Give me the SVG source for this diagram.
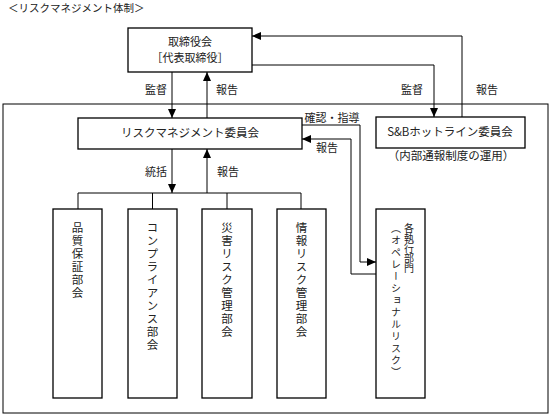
<svg xmlns="http://www.w3.org/2000/svg" width="552" height="416" viewBox="0 0 552 416">
<style>
text{font-family:"Noto Sans CJK JP","Noto Sans",sans-serif;fill:#222;}
.t{font-size:10.5px;}
.n{font-size:11.5px;text-anchor:middle;}
.box{fill:#fff;stroke:#000;stroke-width:1.3;}
.outer{fill:none;stroke:#000;stroke-width:1;}
.ln{fill:none;stroke:#000;stroke-width:1;}
.arr{marker-end:url(#ah);}
.v{font-size:11.5px;writing-mode:vertical-rl;letter-spacing:1.5px;}
.lbl{font-size:11px;text-anchor:middle;}
</style>
<defs>
<marker id="ah" markerUnits="userSpaceOnUse" markerWidth="9" markerHeight="8" refX="9" refY="4" orient="auto">
<path d="M0,0 L9,4 L0,8 z" fill="#000"/>
</marker>
</defs>
<text class="t" x="8" y="12">＜リスクマネジメント体制＞</text>
<rect class="outer" x="3" y="104" width="545" height="309"/>
<g id="connectors">
<line class="ln arr" x1="172" y1="72" x2="172" y2="118"/>
<line class="ln arr" x1="207" y1="118" x2="207" y2="72"/>
<polyline class="ln arr" points="462,117 462,36 252,36"/>
<polyline class="ln arr" points="252,65 434,65 434,117"/>
<polyline class="ln arr" points="302,125 360,125 360,262 376,262"/>
<polyline class="ln arr" points="376,274 351,274 351,139 302,139"/>
<line class="ln arr" x1="172" y1="149" x2="172" y2="193"/>
<line class="ln arr" x1="207" y1="193" x2="207" y2="149"/>
<line class="ln" x1="78" y1="193" x2="301" y2="193"/>
<line class="ln" x1="78" y1="193" x2="78" y2="209"/>
<line class="ln" x1="152.5" y1="193" x2="152.5" y2="209"/>
<line class="ln" x1="227" y1="193" x2="227" y2="209"/>
<line class="ln" x1="301" y1="193" x2="301" y2="209"/>
<text class="lbl" x="156" y="94">監督</text>
<text class="lbl" x="227" y="94">報告</text>
<text class="lbl" x="412" y="94">監督</text>
<text class="lbl" x="487" y="94">報告</text>
<text class="lbl" x="332" y="122">確認・指導</text>
<text class="lbl" x="327" y="152">報告</text>
<text class="lbl" x="156" y="176">統括</text>
<text class="lbl" x="228" y="176">報告</text>
</g>
<g id="board">
<rect class="box" x="128" y="28" width="124" height="44"/>
<text class="n" x="190" y="46" style="font-size:11px">取締役会</text>
<text class="n" x="190" y="62" style="font-size:11px">［代表取締役］</text>
</g>
<g id="rm-committee">
<rect class="box" x="78" y="118" width="224" height="31"/>
<text class="n" x="190" y="137">リスクマネジメント委員会</text>
</g>
<g id="hotline">
<rect class="box" x="376" y="117" width="149" height="31"/>
<text class="n" x="450" y="136">S&amp;Bホットライン委員会</text>
<text class="n" x="451" y="160">（内部通報制度の運用）</text>
</g>
<g id="quality">
<rect class="box" x="53" y="209" width="49" height="189"/>
<text class="v" x="77.5" y="222">品質保証部会</text>
</g>
<g id="compliance">
<rect class="box" x="128" y="209" width="49" height="189"/>
<text class="v" x="152.5" y="222">コンプライアンス部会</text>
</g>
<g id="disaster">
<rect class="box" x="202" y="209" width="50" height="189"/>
<text class="v" x="227" y="222">災害リスク管理部会</text>
</g>
<g id="info">
<rect class="box" x="277" y="209" width="49" height="189"/>
<text class="v" x="301.5" y="222">情報リスク管理部会</text>
</g>
<g id="exec">
<rect class="box" x="376" y="209" width="49" height="189"/>
<text class="v" x="409" y="223" style="font-size:10px;letter-spacing:0">各執行部門</text>
<text class="v" x="396" y="223" style="font-size:10px;letter-spacing:2px">（オペレーショナルリスク）</text>
</g>
</svg>
